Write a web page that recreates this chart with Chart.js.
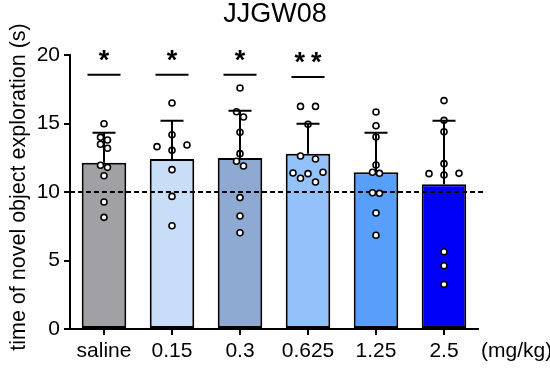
<!DOCTYPE html>
<html>
<head>
<meta charset="utf-8">
<script src="https://cdn.jsdelivr.net/npm/chart.js@4.4.1/dist/chart.umd.min.js"></script>
<style>
  html, body { margin: 0; padding: 0; background: #ffffff; }
  #wrap { width: 550px; height: 368px; }
</style>
</head>
<body>
<div id="wrap"><canvas id="c" width="550" height="368"></canvas></div>
<script>
// ---- data ----
const categories = ['saline', '0.15', '0.3', '0.625', '1.25', '2.5'];
const unitLabel = '(mg/kg)';
const chartTitle = 'JJGW08';
const yTitle = 'time of novel object exploration (s)';
const yTicks = [0, 5, 10, 15, 20];
const means = [12.14, 12.40, 12.48, 12.80, 11.44, 10.56];
const upperSD = [14.33, 15.20, 15.93, 14.98, 14.33, 15.20];
const refLine = 10;
const sigLabels = ['*', '*', '*', '**', '', ''];
const sigLineValue = [18.55, 18.55, 18.55, 18.40, 0, 0];
const ptsSaline = [14.98, 13.99, 13.80, 13.48, 13.19, 11.95, 11.80, 11.19, 9.27, 8.15];
const pts015 = [16.50, 14.18, 13.43, 13.31, 13.04, 11.63, 9.68, 7.54];
const pts03 = [17.59, 15.86, 15.47, 14.36, 12.80, 12.24, 11.90, 9.59, 8.25, 7.03];
const pts0625 = [16.25, 16.25, 14.94, 12.63, 12.41, 11.44, 11.39, 11.34, 11.00, 10.73];
const pts125 = [15.84, 14.84, 14.01, 11.97, 11.44, 11.36, 9.95, 9.90, 8.47, 6.84];
const pts25 = [16.67, 15.23, 14.40, 12.07, 11.36, 11.34, 11.24, 5.64, 4.62, 3.26];
const pointGroups = [ptsSaline, pts015, pts03, pts0625, pts125, pts25];

// ---- styles ----
const barColors = ['#a1a0a5', '#c8def8', '#8eaad2', '#93c1fa', '#579ffa', '#0000f8'];
const FONT = "'Liberation Sans', Arial, Helvetica, sans-serif";

const scatterData = [];
pointGroups.forEach((g, i) => g.forEach(v => scatterData.push({ x: categories[i], y: v, g: i })));

// beeswarm-style horizontal spreading of points with close values
const swarmPlugin = {
  id: 'swarm',
  afterDatasetsUpdate(chart) {
    const meta = chart.getDatasetMeta(1);
    const els = meta.data;
    const rowTol = 5.8;
    const byGroup = {};
    els.forEach((el, idx) => {
      const g = scatterData[idx].g;
      (byGroup[g] = byGroup[g] || []).push(el);
    });
    Object.values(byGroup).forEach(list => {
      list.sort((a, b) => a.y - b.y);
      const rows = [];
      let cur = null;
      list.forEach(el => {
        if (cur && el.y - cur[0].y < rowTol) cur.push(el);
        else { cur = [el]; rows.push(cur); }
      });
      const maxRow = Math.max(...rows.map(r => r.length));
      const spacing = maxRow >= 3 ? 15 : 7;
      rows.forEach(r => {
        if (r.length === 2) { r[0].x -= spacing / 2; r[1].x += spacing / 2; }
        else if (r.length === 3) { r[0].x += spacing; r[1].x -= spacing; }
        else if (r.length > 3) {
          r.forEach((el, k) => { el.x += (k - (r.length - 1) / 2) * spacing; });
        }
      });
    });
  }
};

const extrasPlugin = {
  id: 'extras',
  afterDatasetDraw(chart, args) {
    const { ctx } = chart;
    const xs = chart.scales.x, ys = chart.scales.y;
    if (args.index === 0) {
      // reference dashed line
      ctx.save();
      ctx.strokeStyle = '#000';
      ctx.lineWidth = 2;
      ctx.setLineDash([5, 3]);
      const yy = ys.getPixelForValue(refLine);
      ctx.beginPath();
      ctx.moveTo(xs.left, yy);
      ctx.lineTo(xs.right + 8, yy);
      ctx.stroke();
      ctx.restore();
    }
  },
  afterDatasetsDraw(chart) {
    const { ctx } = chart;
    const xs = chart.scales.x, ys = chart.scales.y;
    // error bars (upper SD), drawn over the points
    ctx.save();
    ctx.strokeStyle = '#000';
    ctx.lineWidth = 2;
    means.forEach((m, i) => {
      const cx = xs.getPixelForValue(i);
      const y0 = ys.getPixelForValue(m);
      const y1 = ys.getPixelForValue(upperSD[i]);
      ctx.beginPath();
      ctx.moveTo(cx, y0);
      ctx.lineTo(cx, y1);
      ctx.moveTo(cx - 11.5, y1);
      ctx.lineTo(cx + 11.5, y1);
      ctx.stroke();
    });
    ctx.restore();
  },
  afterDraw(chart) {
    const { ctx } = chart;
    const xs = chart.scales.x, ys = chart.scales.y;
    ctx.save();
    ctx.fillStyle = '#000';
    ctx.strokeStyle = '#000';
    ctx.lineWidth = 2;
    // significance markers
    sigLabels.forEach((s, i) => {
      if (!s) return;
      const cx = xs.getPixelForValue(i);
      const ly = ys.getPixelForValue(sigLineValue[i]);
      ctx.beginPath();
      ctx.moveTo(cx - 16.5, ly);
      ctx.lineTo(cx + 16.5, ly);
      ctx.stroke();
      ctx.font = 'bold 27px ' + FONT;
      ctx.textAlign = 'center';
      ctx.textBaseline = 'alphabetic';
      const n = s.length;
      for (let k = 0; k < n; k++) {
        ctx.fillText(s[k], cx + (k - (n - 1) / 2) * 16.7, ly - 6);
      }
    });
    // unit label
    ctx.font = '21px ' + FONT;
    ctx.textAlign = 'left';
    ctx.textBaseline = 'middle';
    ctx.fillText(unitLabel, xs.right + 3, 351);
    // y title
    ctx.save();
    ctx.translate(19, 187);
    ctx.rotate(-Math.PI / 2);
    ctx.textAlign = 'center';
    ctx.textBaseline = 'middle';
    ctx.font = '21.5px ' + FONT;
    ctx.fillText(yTitle, 0, 0);
    ctx.restore();
    ctx.restore();
  }
};

new Chart(document.getElementById('c'), {
  type: 'bar',
  data: {
    labels: categories,
    datasets: [
      {
        type: 'bar',
        data: means,
        backgroundColor: barColors,
        borderColor: '#000',
        borderWidth: 2,
        borderSkipped: false,
        barPercentage: 0.655,
        categoryPercentage: 1.0,
        order: 2
      },
      {
        type: 'scatter',
        data: scatterData,
        pointRadius: 3,
        pointBorderWidth: 1.6,
        pointBackgroundColor: '#fff',
        pointBorderColor: '#000',
        order: 1
      }
    ]
  },
  options: {
    responsive: false,
    animation: false,
    layout: { padding: 0 },
    plugins: {
      legend: { display: false },
      tooltip: { enabled: false },
      title: {
        display: true,
        text: chartTitle,
        color: '#000',
        font: { family: FONT, size: 27, weight: 'normal', lineHeight: 1.1 },
        padding: { top: 0, bottom: 25.3 }
      }
    },
    scales: {
      x: {
        type: 'category',
        offset: true,
        grid: { display: true, drawOnChartArea: false, offset: false, tickLength: 6, color: '#000', lineWidth: 2 },
        border: { display: true, color: '#000', width: 2 },
        ticks: { color: '#000', font: { family: FONT, size: 21 }, padding: 4, maxRotation: 0, autoSkip: false },
        afterFit: s => { s.height = 39; }
      },
      y: {
        type: 'linear',
        min: 0,
        max: 20,
        afterBuildTicks: s => { s.ticks = yTicks.map(v => ({ value: v })); },
        grid: { display: true, drawOnChartArea: false, tickLength: 6, color: '#000', lineWidth: 2 },
        border: { display: true, color: '#000', width: 2 },
        ticks: { color: '#000', font: { family: FONT, size: 21 }, padding: 4 },
        afterFit: s => { s.width = 70; }
      },
      yr: {
        type: 'linear',
        position: 'right',
        display: true,
        grid: { display: false },
        border: { display: false },
        ticks: { display: false },
        afterFit: s => { s.width = 72; }
      }
    }
  },
  plugins: [swarmPlugin, extrasPlugin]
});
</script>
</body>
</html>
